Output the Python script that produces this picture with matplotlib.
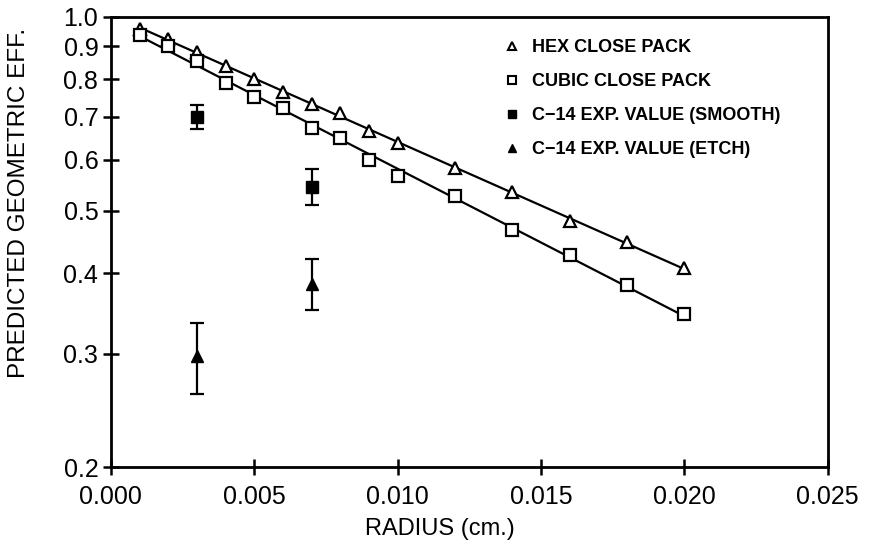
import numpy as np
import matplotlib
matplotlib.use("Agg")
import matplotlib.pyplot as plt
from matplotlib.lines import Line2D
from matplotlib.ticker import FixedLocator, NullLocator, FormatStrFormatter

plt.rcParams['font.family'] = ['Liberation Sans', 'DejaVu Sans']

radius = [0.001, 0.002, 0.003, 0.004, 0.005, 0.006, 0.007, 0.008,
          0.009, 0.010, 0.012, 0.014, 0.016, 0.018, 0.020]
hex_eff = [0.958, 0.924, 0.882, 0.839, 0.801, 0.765, 0.733, 0.709,
           0.665, 0.637, 0.582, 0.535, 0.482, 0.447, 0.407]
cubic_eff = [0.937, 0.901, 0.855, 0.790, 0.751, 0.722, 0.672, 0.648,
             0.600, 0.566, 0.527, 0.467, 0.427, 0.384, 0.346]

exp_radius = [0.003, 0.007]
smooth_eff = [0.70, 0.545]
smooth_lo = [0.67, 0.51]
smooth_hi = [0.73, 0.58]
etch_eff = [0.297, 0.385]
etch_lo = [0.26, 0.35]
etch_hi = [0.335, 0.42]

y_ticks = [0.2, 0.3, 0.4, 0.5, 0.6, 0.7, 0.8, 0.9, 1.0]
x_ticks = [0.000, 0.005, 0.010, 0.015, 0.020, 0.025]
labels = ['HEX CLOSE PACK', 'CUBIC CLOSE PACK',
          'C\u221214 EXP. VALUE (SMOOTH)', 'C\u221214 EXP. VALUE (ETCH)']

fig = plt.figure(figsize=(8.73, 5.6), dpi=100)
ax = fig.add_axes([0.127, 0.166, 0.821, 0.804])

r = np.array(radius)
# straight fits on log scale
for vals in (hex_eff, cubic_eff):
    p = np.polyfit(r, np.log(vals), 1)
    xx = np.array([r.min(), r.max()])
    ax.plot(xx, np.exp(np.polyval(p, xx)), color='black', lw=1.6, zorder=2)

ax.plot(radius, hex_eff, ls='none', marker='^', ms=8, mfc='white', mec='black',
        mew=1.6, zorder=3)
ax.plot(radius, cubic_eff, ls='none', marker='s', ms=8, mfc='white', mec='black',
        mew=1.6, zorder=3)

s_err = [np.array(smooth_eff) - np.array(smooth_lo), np.array(smooth_hi) - np.array(smooth_eff)]
e_err = [np.array(etch_eff) - np.array(etch_lo), np.array(etch_hi) - np.array(etch_eff)]
ax.errorbar(exp_radius, smooth_eff, yerr=s_err, fmt='s', ms=8, color='black',
            ecolor='black', elinewidth=1.6, capsize=5, capthick=1.6)
ax.errorbar(exp_radius, etch_eff, yerr=e_err, fmt='^', ms=9, color='black',
            ecolor='black', elinewidth=1.6, capsize=5, capthick=1.6)

ax.set_yscale('log')
ax.set_ylim(0.2, 1.0)
ax.set_xlim(0.0, 0.025)
ax.yaxis.set_major_locator(FixedLocator(y_ticks))
ax.yaxis.set_minor_locator(NullLocator())
ax.yaxis.set_major_formatter(FormatStrFormatter('%.1f'))
ax.set_xticks(x_ticks)
ax.xaxis.set_major_formatter(FormatStrFormatter('%.3f'))

for s in ax.spines.values():
    s.set_linewidth(2)
ax.tick_params(direction='inout', length=12, width=1.8, labelsize=18)
ax.tick_params(axis='x', pad=7)
ax.tick_params(axis='y', pad=3)

ax.set_xlabel('RADIUS (cm.)', fontsize=17)
ax.set_ylabel('PREDICTED GEOMETRIC EFF.', fontsize=17.5)
ax.xaxis.set_label_coords(0.459, -0.113)
ax.yaxis.set_label_coords(-0.113, 0.587)

handles = [
    Line2D([], [], ls='none', marker='^', ms=6, mfc='white', mec='black', mew=1.5),
    Line2D([], [], ls='none', marker='s', ms=6, mfc='white', mec='black', mew=1.5),
    Line2D([], [], ls='none', marker='s', ms=6, color='black'),
    Line2D([], [], ls='none', marker='^', ms=6, color='black'),
]
leg = ax.legend(handles, labels, loc='upper left', frameon=False, fontsize=13,
                bbox_to_anchor=(0.55, 0.951), borderpad=0, borderaxespad=0,
                handlelength=0.8, handletextpad=0.7, labelspacing=0.95)
for t in leg.get_texts():
    t.set_fontweight('bold')

fig.savefig('out.png', dpi=100)
